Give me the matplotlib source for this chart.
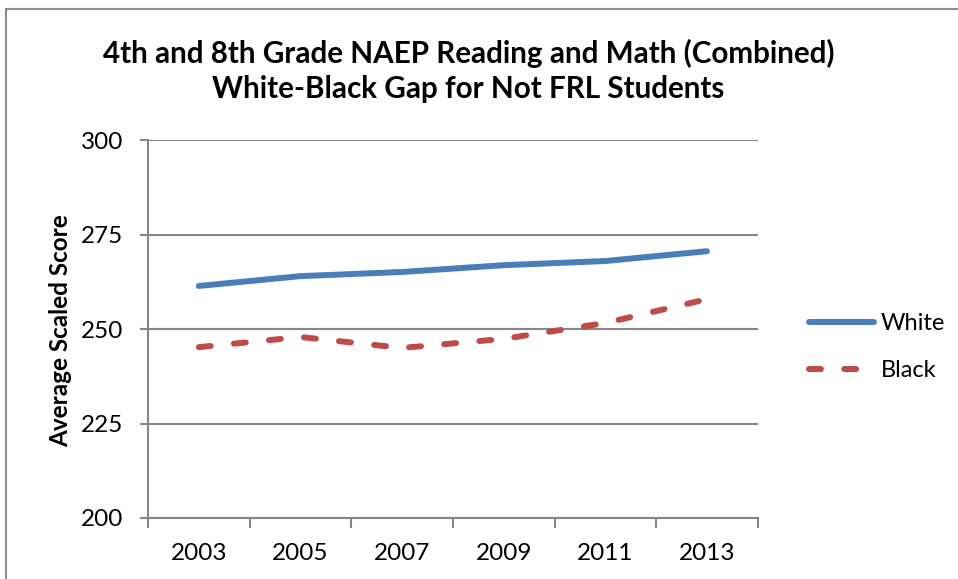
import matplotlib
matplotlib.use("Agg")
import matplotlib.pyplot as plt
from matplotlib.patches import Rectangle

# data
years = ["2003", "2005", "2007", "2009", "2011", "2013"]
white = [261.4, 264.0, 265.1, 266.9, 268.0, 270.6]
black = [245.2, 247.9, 245.0, 247.4, 251.6, 257.9]

plt.rcParams['font.family'] = ['Lato', 'DejaVu Sans']

fig = plt.figure(figsize=(9.58, 5.79), dpi=100)
ax = fig.add_axes([0.1545, 0.1054, 0.6365, 0.6526])

# outer chart border (runs off the image at right and bottom)
fig.patches.append(Rectangle((0.006, -0.05), 1.1, 1.035, transform=fig.transFigure,
                             fill=False, edgecolor="#8c8c8c", linewidth=1.5))

x = list(range(len(years)))
ax.plot(x, white, color="#4a7ebb", linewidth=4.3, solid_capstyle="round", label="White")
ax.plot(x, black, color="#be4b48", linewidth=4.3, dashes=[2.0, 3.9],
        dash_capstyle="round", label="Black")

ax.set_xlim(-0.5, 5.5)
ax.set_ylim(200, 300)
ax.set_yticks([200, 225, 250, 275, 300])
ax.yaxis.grid(True, color="#868686", linewidth=1.5)
ax.set_axisbelow(True)

ax.set_xticks(x)
ax.set_xticklabels(years)
ax.set_xticks([i - 0.5 for i in range(len(years) + 1)], minor=True)
ax.tick_params(axis="x", which="major", length=0, pad=18, labelsize=17.5)
ax.tick_params(axis="x", which="minor", length=7, width=1.5, color="#868686", direction="out")
ax.tick_params(axis="y", length=6, width=1.5, color="#868686", labelsize=17.5, pad=12)

for s in ["top", "right"]:
    ax.spines[s].set_visible(False)
for s in ["left", "bottom"]:
    ax.spines[s].set_color("#868686")
    ax.spines[s].set_linewidth(1.5)

ax.set_ylabel("Average Scaled Score", fontsize=17.5, fontweight="bold")
ax.yaxis.set_label_coords(-0.125, 0.497)

fig.text(0.489, 0.907, "4th and 8th Grade NAEP Reading and Math (Combined)",
         ha="center", va="center", fontsize=21.3, fontweight="bold")
fig.text(0.489, 0.846, "White-Black Gap for Not FRL Students",
         ha="center", va="center", fontsize=21.3, fontweight="bold")

fig.legend(loc="center left", bbox_to_anchor=(0.822, 0.40), frameon=False,
           fontsize=17, handlelength=2.75, labelspacing=1.1, handletextpad=0.3)

fig.savefig("out.png", dpi=100)
